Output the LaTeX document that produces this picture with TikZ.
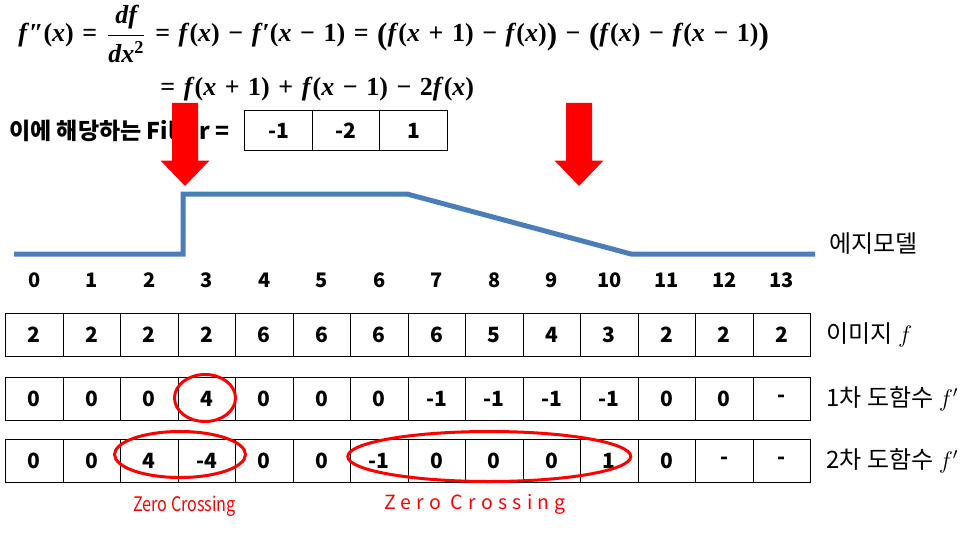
\documentclass[tikz,border=0pt]{standalone}
\usepackage{amsmath}
\usepackage[no-math]{fontspec}
\setmainfont{Noto Sans CJK KR}
\newfontfamily\spacedfont[LetterSpace=27]{Noto Sans CJK KR}
\newfontfamily\eqfont{Liberation Serif}
\usetikzlibrary{calc,positioning}
\definecolor{edgeblue}{HTML}{4A7EBB}
\newsavebox\eqboxone
\newsavebox\eqboxtwo
\newcommand\mi[1]{\textit{#1}}
\newcommand\bigp[1]{\raisebox{-0.1em}{\fontsize{15.5}{16}\selectfont #1}}
\newcommand\eqsetup{\fontsize{13}{15}\eqfont\bfseries\spaceskip=0.33em}
\newcommand\eqfrac{$\genfrac{}{}{0.9pt}{0}{\mbox{\eqfont\bfseries\itshape df}}{\mbox{\eqfont\bfseries\itshape dx\textsuperscript{\upshape 2}}}$}

\begin{document}
\sbox\eqboxone{\eqsetup \mi{f}″(\mi{x}) = \eqfrac{} = \mi{f}(\mi{x}) − \mi{f}′(\mi{x} − 1) = \bigp{(}\mi{f}(\mi{x} + 1) − \mi{f}(\mi{x})\bigp{)} − \bigp{(}\mi{f}(\mi{x}) − \mi{f}(\mi{x} − 1)\bigp{)}}%
\sbox\eqboxtwo{\eqsetup = \mi{f}(\mi{x} + 1) + \mi{f}(\mi{x} − 1) − 2\mi{f}(\mi{x})}%
\begin{tikzpicture}[x=0.5pt, y=-0.5pt,
  cell/.style={draw, line width=0.5pt, minimum width=28.75pt, minimum height=21.7pt, inner sep=0pt, font=\fontsize{10.5}{12}\selectfont\bfseries},
  fcell/.style={cell, minimum width=33.75pt, minimum height=19.5pt},
  idx/.style={inner sep=0pt, font=\fontsize{10}{12}\selectfont\bfseries},
  rowlabel/.style={anchor=west, inner sep=0pt, font=\fontsize{12}{14}\selectfont},
  eqtext/.style={anchor=west, inner sep=0pt},
  zero/.style={draw=red, line width=1.5pt},
  zerotext/.style={text=red, inner sep=0pt}
]
\useasboundingbox (0,0) rectangle (974,535);

\node[anchor=west, inner sep=0pt, font=\fontsize{11.5}{14}\selectfont\bfseries] (filtertext) at (9,131) {이에 해당하는 Filter =};
\foreach \v [count=\i from 0] in {-1,-2,1}
  \node[fcell] (flt-\i) at (278.5+67.5*\i,130.5) {\v};

\draw[edgeblue, line width=2.5pt] (14,254) -- (183,254) -- (183,194) -- (407,194) -- (631,254) -- (815,254);
\node[rowlabel] (edgelabel) at (829,244) {에지모델};

\foreach \ax in {185,579}
  \fill[red] (\ax-13,103) -- (\ax+13,103) -- (\ax+13,160.5) -- (\ax+24.5,160.5) -- (\ax,186) -- (\ax-24.5,160.5) -- (\ax-13,160.5) -- cycle;

\foreach \n in {0,...,13}
  \node[idx] (idx-\n) at (34.25+57.5*\n,280) {\n};

\foreach \v [count=\i from 0] in {2,2,2,2,6,6,6,6,5,4,3,2,2,2}
  \node[cell] (img-\i) at (34.25+57.5*\i,335) {\v};
\foreach \v [count=\i from 0] in {0,0,0,4,0,0,0,-1,-1,-1,-1,0,0,-}
  \node[cell] (dfa-\i) at (34.25+57.5*\i,399) {\v};
\foreach \v [count=\i from 0] in {0,0,4,-4,0,0,-1,0,0,0,1,0,-,-}
  \node[cell] (dfb-\i) at (34.25+57.5*\i,461) {\v};

\draw[zero] ($(dfa-3)+(-1.75,-1)$) ellipse [x radius=15.25pt, y radius=11.75pt];
\draw[zero] ($(dfb-2)!0.5!(dfb-3)+(2,-6.5)$) ellipse [x radius=32.75pt, y radius=11.5pt];
\draw[zero] ($(dfb-8)+(-5,-4.5)$) ellipse [x radius=70.75pt, y radius=12.5pt];

\node[zerotext] (zcross-a) at (184.5,506) {\scalebox{0.81}[1]{\fontsize{10}{12}\selectfont Zero Crossing}};
\node[zerotext] (zcross-b) at (475,504) {\fontsize{9.75}{11}\spacedfont Zero Crossing};

\node[rowlabel, right=7.5pt of img-13] (imglabel) {이미지 \ensuremath{f}};
\node[rowlabel, right=7.5pt of dfa-13] (dfalabel) {1차 도함수 \ensuremath{f^{\prime}}};
\node[rowlabel, right=7.5pt of dfb-13] (dfblabel) {2차 도함수 \ensuremath{f^{\prime}}};

\node[eqtext] (eqtop) at (18,34) {\usebox\eqboxone};
\node[eqtext] (eqbot) at (160,89) {\usebox\eqboxtwo};
\end{tikzpicture}
\end{document}
